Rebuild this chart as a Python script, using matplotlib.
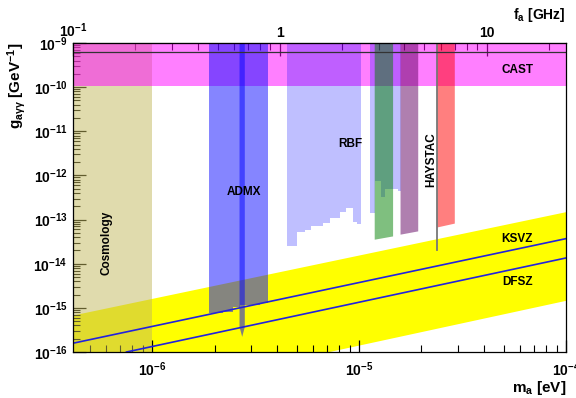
import numpy as np
import matplotlib
matplotlib.use("Agg")
import matplotlib.pyplot as plt
from matplotlib.ticker import FuncFormatter, LogLocator, NullFormatter

plt.rcParams['font.family'] = ['Liberation Sans', 'DejaVu Sans']
plt.rcParams['font.weight'] = 'bold'
plt.rcParams['mathtext.fontset'] = 'custom'
plt.rcParams['mathtext.rm'] = 'Liberation Sans:bold'
plt.rcParams['mathtext.bf'] = 'Liberation Sans:bold'
plt.rcParams['mathtext.it'] = 'Liberation Sans:bold'
plt.rcParams['mathtext.sf'] = 'Liberation Sans:bold'

EV_PER_GHZ = 4.1357e-6   # h * 1 GHz in eV

# axis ranges
m_min, m_max = 0.1 * EV_PER_GHZ, 1e-4
g_min, g_max = 1e-16, 1e-9

# CAST helioscope limit
cast_g = 1.05e-10
cast_line_g = 6.3e-10

# cosmology bound
cosmo_m_max = 1e-6

# ADMX
admx_m = [1.89e-6, 2.19e-6, 2.45e-6, 2.64e-6, 2.80e-6, 3.30e-6, 3.61e-6]
admx_g = [7.5e-16, 8.2e-16, 1.03e-15, 1.16e-15, 1.16e-15, 1.27e-15]
admx_narrow_m = [2.64e-6, 2.72e-6, 2.80e-6]
admx_narrow_g = [3.7e-16, 2.2e-16, 3.7e-16]

# RBF (two pieces, step lower edges)
rbf1_m = [4.48e-6, 5.01e-6, 5.46e-6, 5.88e-6, 6.68e-6, 7.21e-6, 8.06e-6,
          8.68e-6, 9.29e-6, 9.78e-6, 1.026e-5]
rbf1_g = [2.47e-14, 5.14e-14, 5.92e-14, 7.03e-14, 8.4e-14, 1.09e-13,
          1.47e-13, 1.85e-13, 8.7e-14, 8.1e-14]
rbf2_m = [1.124e-5, 1.189e-5, 1.282e-5, 1.330e-5, 1.459e-5, 1.542e-5, 1.602e-5]
rbf2_g = [1.43e-13, 7.4e-13, 3.2e-13, 5.0e-13, 5.0e-13, 4.4e-13]

# UF (green) and purple exclusion
green_m = [1.189e-5, 1.459e-5]
green_g = [3.5e-14, 4.15e-14]
purple_m = [1.585e-5, 1.93e-5]
purple_g = [4.55e-14, 5.4e-14]

# HAYSTAC
haystac_line_m = 2.37e-5
haystac_line_g = 2.07e-14
haystac_m = [2.38e-5, 2.90e-5]
haystac_g = [6.6e-14, 8.1e-14]

# QCD axion band and models
band_upper_m = [m_min, 1e-4]
band_upper_g = [6.7e-16, 1.47e-13]
band_lower_m = [7.2e-6, 1e-4]
band_lower_g = [1e-16, 1.44e-15]
ksvz_m = [m_min, 1e-4]
ksvz_g = [1.58e-16, 3.7e-14]
dfsz_m = [7.5e-7, 1e-4]
dfsz_g = [1e-16, 1.35e-14]


def step_poly(edges, lows, top):
    xs, ys = [edges[0]], [top]
    for i, lo in enumerate(lows):
        xs += [edges[i], edges[i + 1]]
        ys += [lo, lo]
    xs.append(edges[-1])
    ys.append(top)
    return xs, ys


fig = plt.figure(figsize=(5.76, 3.98), dpi=100)
ax = fig.add_axes([73 / 576, 46 / 398, 493 / 576, 309 / 398])
ax.set_xscale('log')
ax.set_yscale('log')
ax.set_xlim(m_min, m_max)
ax.set_ylim(g_min, g_max)

# yellow QCD band
ax.fill([band_upper_m[0], band_upper_m[0], band_upper_m[1], band_lower_m[1], band_lower_m[0]],
        [g_min, band_upper_g[0], band_upper_g[1], band_lower_g[1], band_lower_g[0]],
        color='#ffff00', lw=0, zorder=1)

# cosmology
ax.fill_between([m_min, cosmo_m_max], g_min, g_max, color=(0.76, 0.72, 0.36),
                alpha=0.5, lw=0, zorder=2)

# CAST
ax.fill_between([m_min, m_max], cast_g, g_max, color=(1, 0, 1), alpha=0.5, lw=0, zorder=3)
ax.axhline(cast_line_g, color='#333333', lw=0.9, zorder=9)

# ADMX
x, y = step_poly(admx_m, admx_g, g_max)
ax.fill(x, y, color=(0.05, 0.05, 1), alpha=0.5, lw=0, zorder=4)
ax.fill([admx_narrow_m[0]] + admx_narrow_m + [admx_narrow_m[-1]],
        [g_max] + admx_narrow_g + [g_max], color=(0, 0, 1), alpha=0.5, lw=0, zorder=4)

# RBF
for edges, lows in [(rbf1_m, rbf1_g), (rbf2_m, rbf2_g)]:
    x, y = step_poly(edges, lows, g_max)
    ax.fill(x, y, color=(0, 0, 1), alpha=0.25, lw=0, zorder=4)

# green, purple, HAYSTAC
ax.fill([green_m[0], green_m[0], green_m[1], green_m[1]],
        [g_max, green_g[0], green_g[1], g_max], color=(0, 0.5, 0), alpha=0.5, lw=0, zorder=5)
ax.fill([purple_m[0], purple_m[0], purple_m[1], purple_m[1]],
        [g_max, purple_g[0], purple_g[1], g_max], color=(0.38, 0, 0.38), alpha=0.5, lw=0, zorder=5)
ax.fill([haystac_m[0], haystac_m[0], haystac_m[1], haystac_m[1]],
        [g_max, haystac_g[0], haystac_g[1], g_max], color=(1, 0, 0), alpha=0.5, lw=0, zorder=5)
ax.plot([haystac_line_m, haystac_line_m], [haystac_line_g, g_max], color='#777777', lw=1.3, zorder=6)

# model lines
ax.plot(ksvz_m, ksvz_g, color='#2222dd', lw=1.2, zorder=7)
ax.plot(dfsz_m, dfsz_g, color='#2222dd', lw=1.2, zorder=7)

# labels
fs = 8.5
ax.text(5.8e-5, 2.5e-10, 'CAST', fontsize=fs, fontweight='bold', ha='center', va='center', zorder=10)
ax.text(9.1e-6, 5.1e-12, 'RBF', fontsize=fs, fontweight='bold', ha='center', va='center', zorder=10)
ax.text(2.78e-6, 4.3e-13, 'ADMX', fontsize=fs, fontweight='bold', ha='center', va='center', zorder=10)
ax.text(2.24e-5, 2.3e-12, 'HAYSTAC', fontsize=fs, fontweight='bold', rotation=90,
        ha='center', va='center', zorder=10)
ax.text(6.0e-7, 3.0e-14, 'Cosmology', fontsize=fs, fontweight='bold', rotation=90,
        ha='center', va='center', zorder=10)
ax.text(5.8e-5, 3.7e-14, 'KSVZ', fontsize=fs, fontweight='bold', ha='center', va='center', zorder=10)
ax.text(5.8e-5, 3.8e-15, 'DFSZ', fontsize=fs, fontweight='bold', ha='center', va='center', zorder=10)

# axes styling
for s in ax.spines.values():
    s.set_linewidth(0.9)
    s.set_zorder(11)
ax.tick_params(which='both', direction='in', top=False, right=False, labelsize=10, pad=4)
ax.tick_params(axis='y', which='major', length=9, width=0.9)
ax.tick_params(axis='y', which='minor', length=5, width=0.8)
ax.tick_params(axis='x', which='major', length=9, width=0.9, pad=6)
ax.tick_params(axis='x', which='minor', length=5, width=0.8)
ax.yaxis.set_major_locator(LogLocator(base=10, numticks=20))
ax.yaxis.set_minor_locator(LogLocator(base=10, subs=np.arange(2, 10), numticks=100))
ax.yaxis.set_minor_formatter(NullFormatter())
ax.xaxis.set_minor_formatter(NullFormatter())

sec = ax.secondary_xaxis('top', functions=(lambda m: m / EV_PER_GHZ, lambda f: f * EV_PER_GHZ))
sec.tick_params(which='both', direction='in', labelsize=10, pad=2)
sec.tick_params(which='major', length=9, width=0.9)
sec.tick_params(which='minor', length=5, width=0.8)
sec.xaxis.set_major_formatter(FuncFormatter(
    lambda v, p: '$10^{-1}$' if abs(v - 0.1) < 1e-6 else ('%g' % v)))
sec.xaxis.set_minor_formatter(NullFormatter())

fig.text(566 / 576, 1 - 388 / 398, r'm$_{\mathregular{a}}$ [eV]', fontsize=11,
         fontweight='bold', ha='right', va='center')
fig.text(566 / 576, 1 - 15 / 398, r'f$_{\mathregular{a}}$ [GHz]', fontsize=10,
         fontweight='bold', ha='right', va='center')
fig.text(17 / 576, 1 - 43 / 398, r'g$_{a\gamma\gamma}$ [GeV$^{-1}$]', fontsize=11,
         fontweight='bold', rotation=90, ha='center', va='top')

fig.savefig('out.png', dpi=100)
